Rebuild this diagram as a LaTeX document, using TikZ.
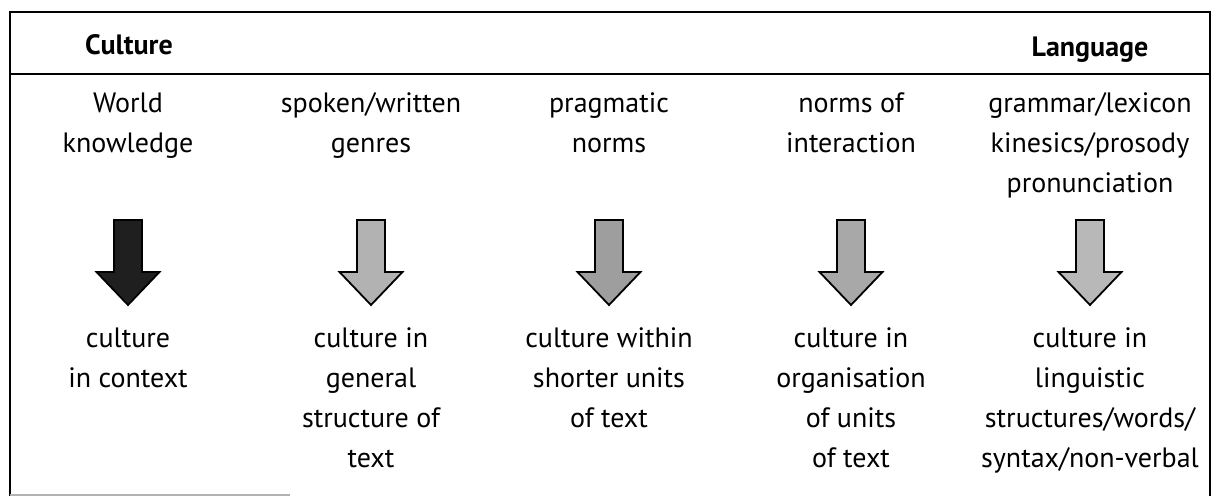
\documentclass[tikz,border=0pt]{standalone}
\usepackage{fontspec}
\setmainfont{PT Sans}
\tikzset{
	lbl/.style={align=center, anchor=base, inner sep=0pt, font=\fontsize{14}{20}\selectfont},
	hdr/.style={anchor=base, inner sep=0pt, font=\fontsize{14}{20}\selectfont\bfseries},
	frame/.style={line width=1.2pt},
	blockarrow/.style={draw, line width=0.9pt, line join=miter}
}
\begin{document}
\begin{tikzpicture}[x=0.5pt,y=-0.5pt]
	\useasboundingbox (0,0) rectangle (1216,496);
	% frame and header rule
	\draw[frame] (10,496) -- (10,12) -- (1210,12) -- (1210,496);
	\draw[frame] (10,74) -- (1210,74);
	\draw[gray!60, line width=1pt] (10,495) -- (290,495);
	% header
	\node[hdr] (cult) at (129,55) {Culture};
	\node[hdr] (lang) at (1090,57) {Language};
	% top labels (placed at the baseline of their last line)
	\node[lbl] (w1) at (128,153) {World\\knowledge};
	\node[lbl] (w2) at (371,153) {spoken/written\\genres};
	\node[lbl] (w3) at (609,153) {pragmatic\\norms};
	\node[lbl] (w4) at (851,153) {norms of\\interaction};
	\node[lbl] (w5) at (1090,193) {grammar/lexicon\\kinesics/prosody\\pronunciation};
	% arrows
	\foreach \cx/\shade in {128/black!88, 371/black!30, 609/black!38, 851/black!34, 1090/black!28}
	\draw[blockarrow, fill=\shade] (\cx-14,220) -- (\cx+14,220) -- (\cx+14,272)
		-- (\cx+31.5,272) -- (\cx,305) -- (\cx-31.5,272) -- (\cx-14,272) -- cycle;
	% bottom labels
	\node[lbl] (r1) at (128,388) {culture\\in context};
	\node[lbl] (r2) at (371,468) {culture in\\general\\structure of\\text};
	\node[lbl] (r3) at (609,428) {culture within\\shorter units\\of text};
	\node[lbl] (r4) at (851,468) {culture in\\organisation\\of units\\of text};
	\node[lbl] (r5) at (1090,468) {culture in\\linguistic\\structures/words/\\syntax/non-verbal};
\end{tikzpicture}
\end{document}
